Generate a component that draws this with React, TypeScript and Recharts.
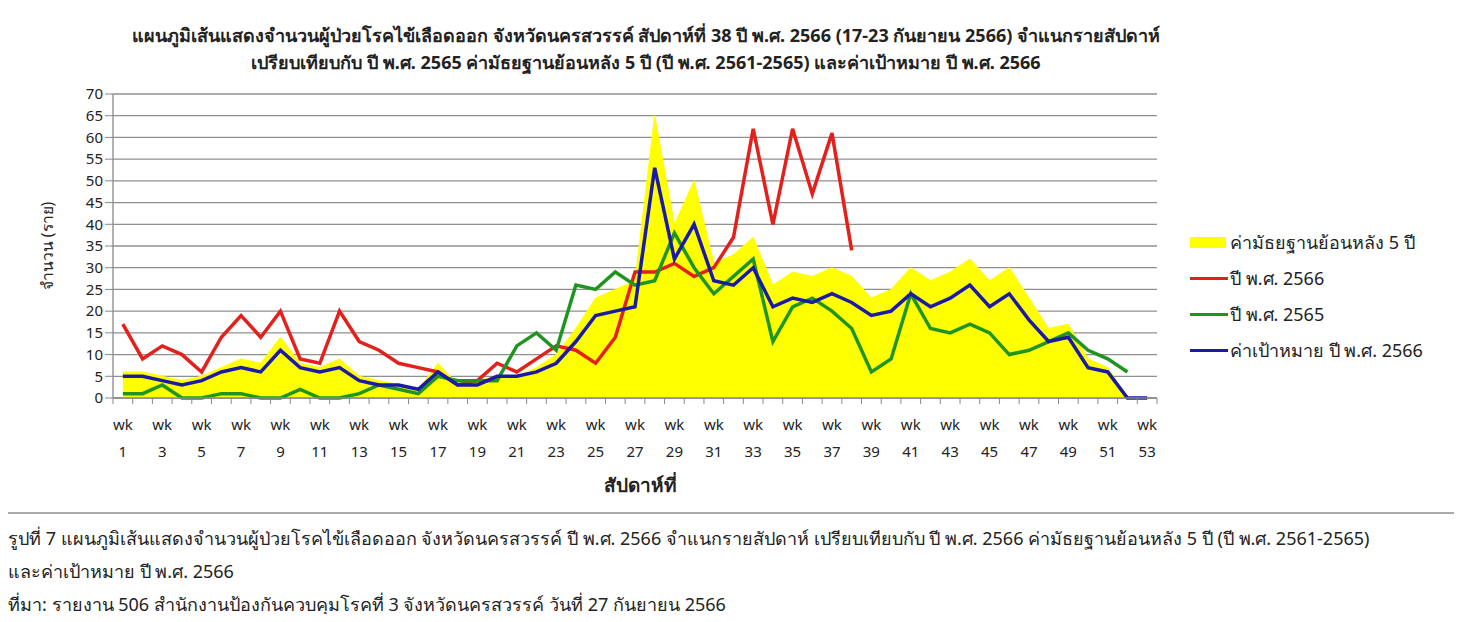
import React from 'react';
import { ComposedChart, Line, Area, XAxis, YAxis, CartesianGrid } from 'recharts';

const weeks = [1,2,3,4,5,6,7,8,9,10,11,12,13,14,15,16,17,18,19,20,21,22,23,24,25,26,27,28,29,30,31,32,33,34,35,36,37,38,39,40,41,42,43,44,45,46,47,48,49,50,51,52,53];
const median5y = [6,6,5,4,5,7,9,8,14,8,7,9,5,4,3,2,8,3,4,5,5,7,10,16,23,25,27,65,40,50,31,33,37,26,29,28,30,28,23,25,30,27,29,32,27,30,23,16,17,9,7,0,0];
const y2566 = [17,9,12,10,6,14,19,14,20,9,8,20,13,11,8,7,6,3,4,8,6,9,12,11,8,14,29,29,31,28,30,37,62,40,62,47,61,34];
const y2565 = [1,1,3,0,0,1,1,0,0,2,0,0,1,3,2,1,5,4,4,4,12,15,11,26,25,29,26,27,38,30,24,28,32,13,21,23,20,16,6,9,24,16,15,17,15,10,11,13,15,11,9,6];
const target2566 = [5,5,4,3,4,6,7,6,11,7,6,7,4,3,3,2,6,3,3,5,5,6,8,13,19,20,21,53,32,40,27,26,30,21,23,22,24,22,19,20,24,21,23,26,21,24,18,13,14,7,6,0,0];
const yTicks = [0,5,10,15,20,25,30,35,40,45,50,55,60,65,70];

const seriesNames = ['ค่ามัธยฐานย้อนหลัง 5 ปี', 'ปี พ.ศ. 2566', 'ปี พ.ศ. 2565', 'ค่าเป้าหมาย ปี พ.ศ. 2566'];
const colors = { median: '#ffff00', r: '#e3201b', g: '#1f951f', b: '#1a1aa6' };

const data = weeks.map((w, i) => ({
  wk: w,
  median: median5y[i] ?? null,
  a2566: y2566[i] ?? null,
  a2565: y2565[i] ?? null,
  target: target2566[i] ?? null,
}));

const boundaryTicks = [0, ...weeks].map((w) => w + 0.5);

const FONT = "Tahoma, 'Noto Sans', 'DejaVu Sans', sans-serif";

const XTick = (props: any) => {
  const { x, y, payload, width } = props;
  const wk = payload.value - 0.5;
  if (wk < 1 || wk % 2 === 0) return null;
  const band = (typeof width === 'number' && width > 100 ? width : 1044) / weeks.length;
  const cx = x - band / 2;
  return (
    <g>
      <text x={cx} y={y + 24} textAnchor="middle" fontSize={15} fill="#222" fontFamily={FONT}>wk</text>
      <text x={cx} y={y + 51} textAnchor="middle" fontSize={15} fill="#222" fontFamily={FONT}>{wk}</text>
    </g>
  );
};

export default function App() {
  return (
    <div style={{ position: 'relative', width: 1462, height: 622, margin: -8, background: '#fff', fontFamily: FONT, color: '#222', overflow: 'hidden' }}>
      <div style={{ position: 'absolute', left: 0, top: 0, width: 1458, height: 512, borderRight: '1px solid #bbb', borderBottom: '2px solid #aaa' }} />
      <div style={{ position: 'absolute', left: 0, width: 1292, top: 22, textAlign: 'center', fontWeight: 'bold', fontSize: 18, lineHeight: '27px' }}>
        <div>แผนภูมิเส้นแสดงจำนวนผู้ป่วยโรคไข้เลือดออก จังหวัดนครสวรรค์ สัปดาห์ที่ 38 ปี พ.ศ. 2566 (17-23 กันยายน 2566) จำแนกรายสัปดาห์</div>
        <div>เปรียบเทียบกับ ปี พ.ศ. 2565 ค่ามัธยฐานย้อนหลัง 5 ปี (ปี พ.ศ. 2561-2565) และค่าเป้าหมาย ปี พ.ศ. 2566</div>
      </div>
      <div style={{ position: 'absolute', left: 0, top: 0 }}>
        <ComposedChart width={1462} height={512} data={data} margin={{ top: 94, right: 305, bottom: 44, left: 53 }}>
          <CartesianGrid horizontal={true} vertical={false} stroke="#8f8f8f" strokeWidth={1.3} />
          <XAxis
            dataKey="wk"
            type="number"
            domain={[0.5, 53.5]}
            ticks={boundaryTicks}
            interval={0}
            tick={<XTick />}
            tickSize={6}
            tickLine={{ stroke: '#888' }}
            axisLine={{ stroke: '#888', strokeWidth: 1.3 }}
            height={70}
          />
          <YAxis
            domain={[0, 70]}
            ticks={yTicks}
            interval={0}
            width={60}
            tickSize={8}
            tickMargin={2}
            tickLine={{ stroke: '#888' }}
            axisLine={{ stroke: '#888', strokeWidth: 1.3 }}
            tick={{ fontSize: 15, fill: '#222', fontFamily: FONT }}
            label={{ value: 'จำนวน (ราย)', angle: -90, position: 'left', offset: 6, style: { fontSize: 15.5, fill: '#222', fontFamily: FONT, textAnchor: 'middle' } }}
          />
          <Area dataKey="median" name={seriesNames[0]} type="linear" stroke={colors.median} strokeWidth={1} fill={colors.median} fillOpacity={1} isAnimationActive={false} dot={false} activeDot={false} />
          <Line dataKey="a2566" name={seriesNames[1]} type="linear" stroke={colors.r} strokeWidth={3.5} dot={false} activeDot={false} isAnimationActive={false} />
          <Line dataKey="a2565" name={seriesNames[2]} type="linear" stroke={colors.g} strokeWidth={3.5} dot={false} activeDot={false} isAnimationActive={false} />
          <Line dataKey="target" name={seriesNames[3]} type="linear" stroke={colors.b} strokeWidth={3.5} dot={false} activeDot={false} isAnimationActive={false} />
        </ComposedChart>
      </div>
      <div style={{ position: 'absolute', left: 580, width: 120, top: 470, textAlign: 'center', fontWeight: 'bold', fontSize: 19 }}>สัปดาห์ที่</div>
      <div style={{ position: 'absolute', left: 1190, top: 224, fontSize: 18 }}>
        {[colors.median, colors.r, colors.g, colors.b].map((c, i) => (
          <div key={i} style={{ display: 'flex', alignItems: 'center', height: 36 }}>
            {i === 0 ? (
              <div style={{ width: 36, height: 11, background: c, marginRight: 4 }} />
            ) : (
              <div style={{ width: 38, height: 3, background: c, marginRight: 2 }} />
            )}
            <span>{seriesNames[i]}</span>
          </div>
        ))}
      </div>
      <div style={{ position: 'absolute', left: 8, top: 522, fontSize: 18, lineHeight: '33px', whiteSpace: 'nowrap' }}>
        <div>รูปที่ 7 แผนภูมิเส้นแสดงจำนวนผู้ป่วยโรคไข้เลือดออก จังหวัดนครสวรรค์ ปี พ.ศ. 2566 จำแนกรายสัปดาห์ เปรียบเทียบกับ ปี พ.ศ. 2566 ค่ามัธยฐานย้อนหลัง 5 ปี (ปี พ.ศ. 2561-2565)</div>
        <div>และค่าเป้าหมาย ปี พ.ศ. 2566</div>
        <div>ที่มา: รายงาน 506 สำนักงานป้องกันควบคุมโรคที่ 3 จังหวัดนครสวรรค์ วันที่ 27 กันยายน 2566</div>
      </div>
    </div>
  );
}
